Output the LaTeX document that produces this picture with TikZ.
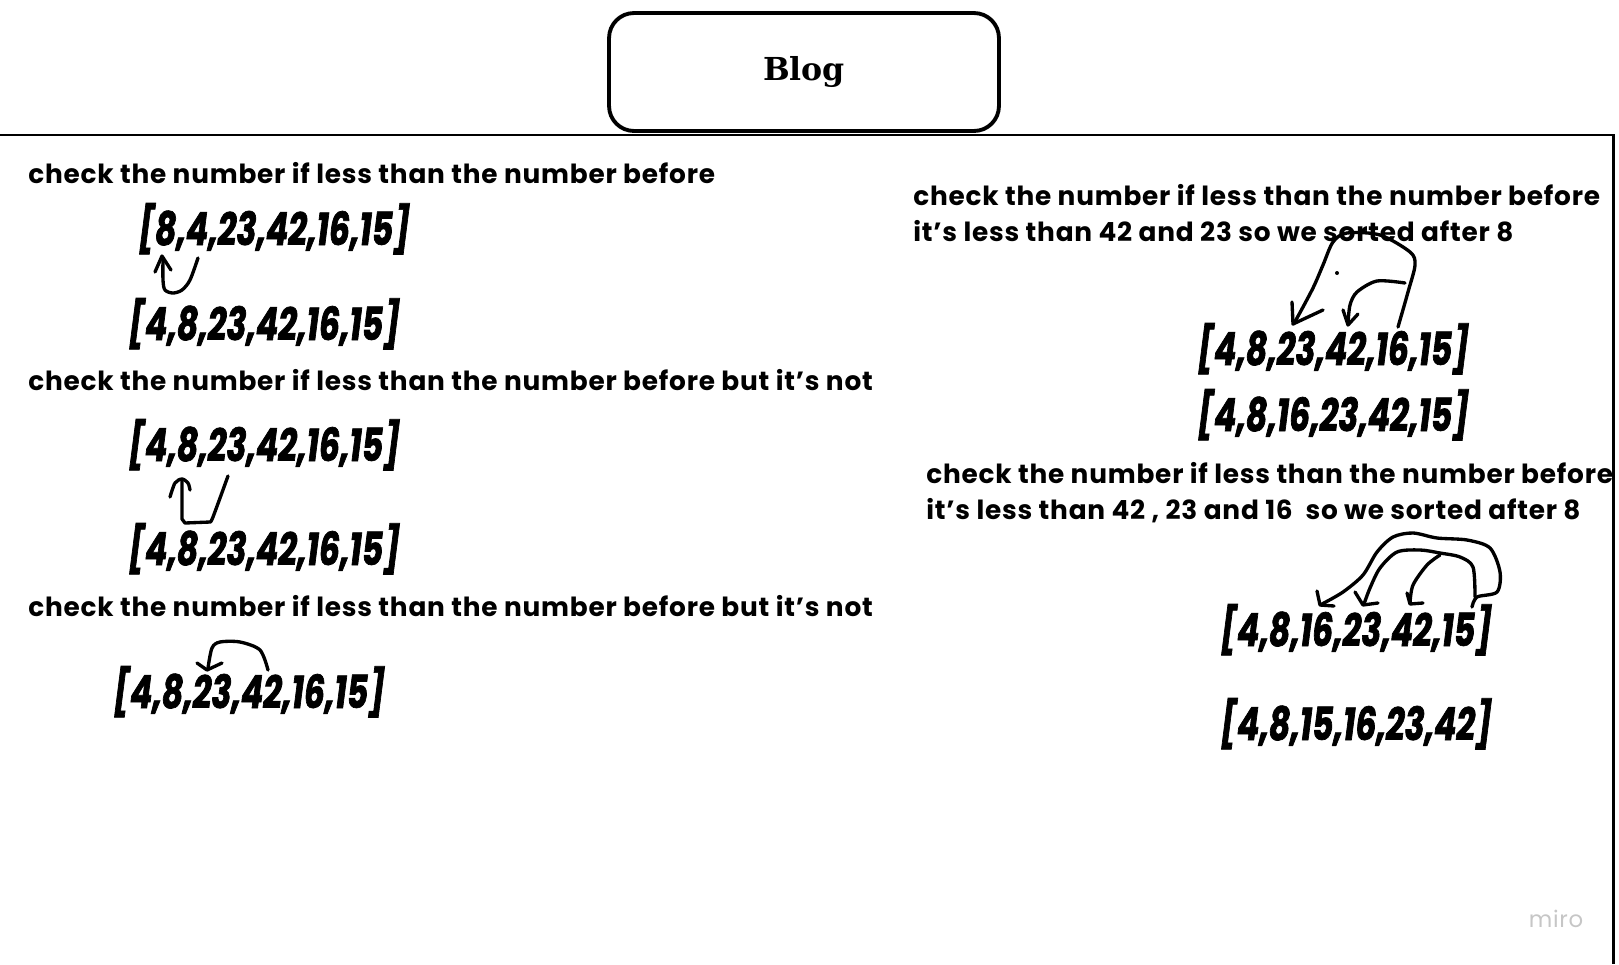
\documentclass[tikz,border=0pt]{standalone}
\usepackage{fontspec}
\setmainfont{Poppins}[LetterSpace=3]
\newfontfamily\arrfont[FakeStretch=0.72, FakeBold=1.5]{Poppins}
\newfontfamily\titlefont{DejaVu Serif}
\usetikzlibrary{positioning}

\begin{document}
\begin{tikzpicture}[x=0.02cm, y=-0.02cm,
  blogbox/.style={draw, line width=2.2pt, rounded corners=0.5cm, minimum width=7.8cm, minimum height=2.36cm, font=\titlefont\bfseries\fontsize{18}{21}\selectfont},
  note/.style={anchor=base west, inner sep=0pt, font=\bfseries\fontsize{15}{18}\selectfont},
  arr/.style={anchor=base west, inner sep=0pt, font=\arrfont\bfseries\itshape\fontsize{26}{30}\selectfont},
  pen/.style={line width=1.9pt, line cap=round, line join=round}
]
  \useasboundingbox (0,0) rectangle (1619,964);

  % title and frame
  \node[blogbox] (blog) at (804,72) {Blog};
  \draw[line width=1.7pt] (0,135) -- (1613,135) -- (1613,964);

  % left column
  \node[note] (t1) at (28,183) {check the number if less than the number before};
  \node[arr] (a1) at (138,245) {[8,4,23,42,16,15]};
  \node[arr] (b1) at (128,340) {[4,8,23,42,16,15]};
  \node[note] (t2) at (28,390) {check the number if less than the number before but it's not};
  \node[arr] (a2) at (128,461) {[4,8,23,42,16,15]};
  \node[arr] (b2) at (128,565) {[4,8,23,42,16,15]};
  \node[note] (t3) at (28,616) {check the number if less than the number before but it's not};
  \node[arr] (c3) at (113,708) {[4,8,23,42,16,15]};

  % right column
  \node[note] (t4) at (913,205) {check the number if less than the number before};
  \node[note] (t4b) at (913,241) {it's less than 42 and 23 so we sorted after 8};
  \node[arr] (d4) at (1197,365) {[4,8,23,42,16,15]};
  \node[arr] (e4) at (1197,431) {[4,8,16,23,42,15]};
  \node[note] (t5) at (926,483) {check the number if less than the number before};
  \node[note] (t5b) at (926,519) {it's less than 42 , 23 and 16 \ so we sorted after 8};
  \node[arr] (f5) at (1220,646) {[4,8,16,23,42,15]};
  \node[arr] (g5) at (1220,740) {[4,8,15,16,23,42]};

  \node[font=\fontsize{13}{15}\selectfont, text=gray!45] (miro) at (1556,919) {miro};

  % hand drawn swaps
  \draw[pen] plot[smooth] coordinates {(198,258) (190,280) (182,290) (173,293) (165,290) (163,280) (163,258)};
  \draw[pen] (155,272) -- (162,256) -- (171,270);

  \draw[pen] plot[smooth] coordinates {(228,476) (213,517) (210,522)} -- (185,523) -- (182,519) -- (182,480);
  \draw[pen] plot[smooth] coordinates {(170,497) (175,483) (182,479) (188,483) (190,490)};

  \draw[pen] plot[smooth] coordinates {(268,670) (260,650) (240,642) (220,642) (212,648) (208,668)};
  \draw[pen] (197,663) -- (207,670) -- (222,663);

  \draw[pen] plot[smooth] coordinates {(1398,327) (1408,292) (1415,265) (1410,252) (1380,235) (1347,233) (1333,242) (1323,265) (1313,288) (1297,318) (1293,324)};
  \draw[pen] (1292,302) -- (1293,324) -- (1323,310);
  \fill (1337,273) circle (2);
  \draw[pen] plot[smooth] coordinates {(1405,283) (1377,281) (1357,292) (1350,305) (1348,324)};
  \draw[pen] (1343,310) -- (1348,325) -- (1358,314);

  \draw[pen] plot[smooth] coordinates {(1472,607) (1477,597) (1497,592) (1500,572) (1490,548) (1467,540) (1437,538) (1413,533) (1393,537) (1377,552) (1363,575) (1343,592) (1322,604)};
  \draw[pen] (1317,591) -- (1320,605) -- (1334,606);
  \draw[pen] plot[smooth] coordinates {(1475,597) (1473,567) (1460,557) (1440,553) (1420,550) (1397,552) (1380,568) (1370,588) (1364,604)};
  \draw[pen] (1355,592) -- (1363,605) -- (1378,603);
  \draw[pen] plot[smooth] coordinates {(1440,555) (1427,565) (1413,585) (1410,603)};
  \draw[pen] (1407,593) -- (1410,604) -- (1423,603);
\end{tikzpicture}
\end{document}
